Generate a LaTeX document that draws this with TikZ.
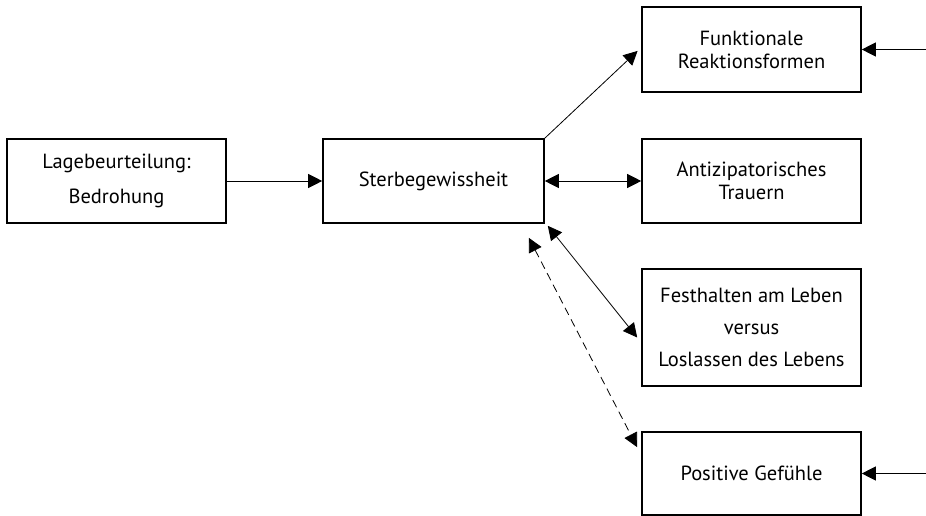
\documentclass[tikz,border=0pt]{standalone}
\usepackage{fontspec}
\setmainfont{PT Sans}
\usetikzlibrary{arrows.meta,positioning}

\tikzset{
  box/.style={draw, line width=1.6pt, align=center, minimum width=219pt, inner sep=0pt,
    font=\fontsize{20.5}{23}\selectfont},
  pfeil/.style={line width=0.8pt, -{Triangle[length=14pt,width=14pt]}},
  doppel/.style={line width=0.8pt, {Triangle[length=14pt,width=14pt]}-{Triangle[length=14pt,width=14pt]}},
  strich/.style={dash pattern=on 8pt off 5pt}
}

\begin{document}
\begin{tikzpicture}[x=1pt,y=-1pt]
  \useasboundingbox (0,0) rectangle (926,516);
  % Ausgangslage
  \node[box, minimum height=84pt] (lage) at (116.5,181) {Lagebeurteilung:\\[12pt] Bedrohung};
  \node[box, minimum width=221pt, minimum height=84pt] (sterbe) at (433.5,181) {Sterbegewissheit};
  % Reaktionen rechts
  \node[box, minimum height=85pt] (funk) at (751.5,49.5) {Funktionale\\ Reaktionsformen};
  \node[box, minimum height=84pt] (antiz) at (751.5,181) {Antizipatorisches\\ Trauern};
  \node[box, minimum height=117pt] (fest) at (751.5,327.5) {Festhalten am Leben\\[9pt] versus\\[9pt] Loslassen des Lebens};
  \node[box, minimum height=83pt] (posit) at (751.5,473.5) {Positive Gefühle};
  % Zufluss von aussen
  \coordinate (funkin) at (926,49.5);
  \coordinate (positin) at (926,473.5);
  % Verbindungen
  \draw [pfeil] (lage.east) -- (sterbe.west);
  \draw [pfeil, shorten >=5pt] (sterbe.north east) -- ([yshift=2pt]funk.west);
  \draw [doppel] (sterbe.east) -- (antiz.west);
  \draw [doppel] ([xshift=3pt,yshift=-2pt]sterbe.south east) -- ([xshift=-4pt,yshift=-10pt]fest.west);
  \draw [doppel, strich] ([xshift=-16pt,yshift=-14pt]sterbe.south east) -- ([xshift=-4pt,yshift=-16pt]posit.north west);
  \draw [pfeil] (funkin) -- (funk.east);
  \draw [pfeil] (positin) -- (posit.east);
\end{tikzpicture}
\end{document}
